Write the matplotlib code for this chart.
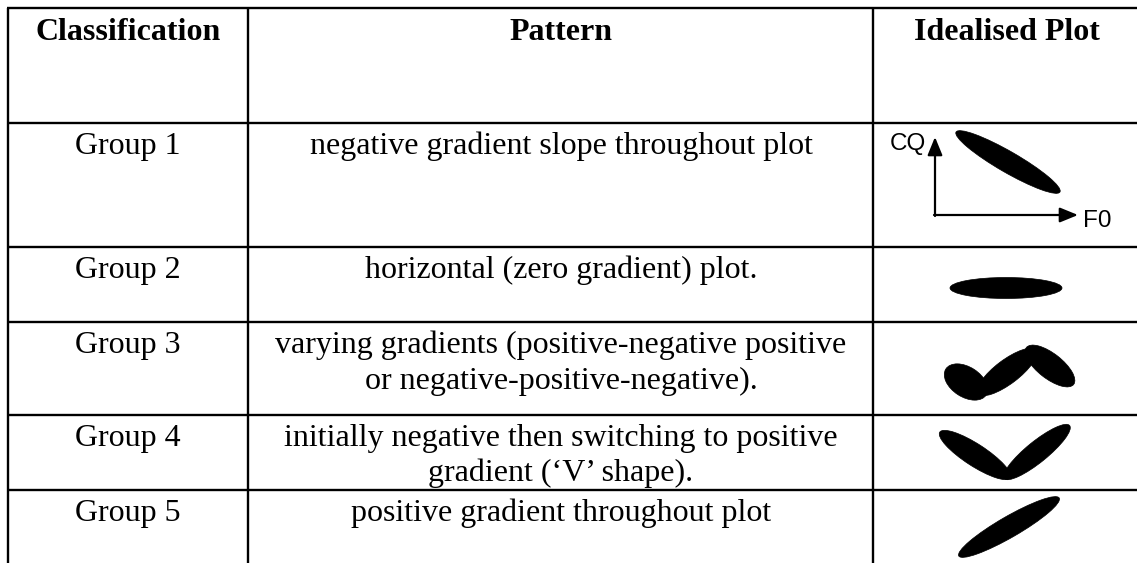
import matplotlib
matplotlib.use("Agg")
import matplotlib.pyplot as plt
from matplotlib.patches import Ellipse

# ---------------- data ----------------
headers = ["Classification", "Pattern", "Idealised Plot"]
classifications = ["Group 1", "Group 2", "Group 3", "Group 4", "Group 5"]
patterns = [
    ["negative gradient slope throughout plot"],
    ["horizontal (zero gradient) plot."],
    ["varying gradients (positive-negative positive",
     "or negative-positive-negative)."],
    ["initially negative then switching to positive",
     "gradient (\u2018V\u2019 shape)."],
    ["positive gradient throughout plot"],
]
axis_labels = ["CQ", "F0"]

# ---------------- layout (pixels) ----------------
W, H = 1137, 563
row_lines = [8, 123, 247, 322, 415, 490]
col_lines = [8, 248, 873]
col_centers = [128, 561, 1007]

fig = plt.figure(figsize=(W / 100, H / 100), dpi=100)
ax = fig.add_axes([0, 0, 1, 1])
ax.set_xlim(0, W)
ax.set_ylim(H, 0)
ax.axis("off")

lw = 1.7
for y in row_lines:
    ax.plot([col_lines[0] - 1, W], [y, y], color="black", lw=lw, solid_capstyle="butt")
for x in col_lines:
    ax.plot([x, x], [row_lines[0], H], color="black", lw=lw, solid_capstyle="butt")

serif = ["Liberation Serif", "DejaVu Serif"]
fs = 23
# header
for cx, t in zip(col_centers, headers):
    ax.text(cx, row_lines[0] + 32, t, ha="center", va="baseline",
            fontsize=fs, fontweight="bold", family=serif)

line_gap = 35.5
for i, (c, p) in enumerate(zip(classifications, patterns)):
    top = row_lines[i + 1]
    base = top + 31
    ax.text(col_centers[0], base, c, ha="center", va="baseline", fontsize=fs, family=serif)
    for j, line in enumerate(p):
        ax.text(col_centers[1], base + j * line_gap, line, ha="center", va="baseline",
                fontsize=fs, family=serif)

# ---------------- idealised plots ----------------
def blob(cx, cy, length, width, angle):
    # angle in degrees, visually counter-clockwise (y axis inverted)
    ax.add_patch(Ellipse((cx, cy), length, width, angle=-angle,
                         facecolor="black", edgecolor="black", lw=0.5))

# Group 1: axes with arrows + falling ellipse
ax.annotate("", xy=(935, 137), xytext=(935, 216),
            arrowprops=dict(arrowstyle="-|>,head_length=1.1,head_width=0.45",
                            color="black", lw=1.6, shrinkA=0, shrinkB=0))
ax.annotate("", xy=(1078, 215), xytext=(934, 215),
            arrowprops=dict(arrowstyle="-|>,head_length=1.1,head_width=0.45",
                            color="black", lw=1.6, shrinkA=0, shrinkB=0))
sans = ["Liberation Sans", "DejaVu Sans"]
ax.text(926, 150, axis_labels[0], ha="right", va="baseline", fontsize=17.5, family=sans)
ax.text(1083, 227, axis_labels[1], ha="left", va="baseline", fontsize=17.5, family=sans)
blob(1008, 162, 120, 21, -30)

# Group 2: horizontal ellipse
blob(1006, 288, 112, 21, 0)

# Group 3: squiggle
blob(966, 382, 48, 30, -33)
blob(1007, 372, 72, 24, 37)
blob(1050, 366, 60, 25, -38)

# Group 4: V shape
blob(975, 455, 84, 22, -33)
blob(1037, 452, 84, 21, 39)

# Group 5: rising ellipse
blob(1009, 527, 116, 21, 30)

fig.savefig("out.png", dpi=100)
